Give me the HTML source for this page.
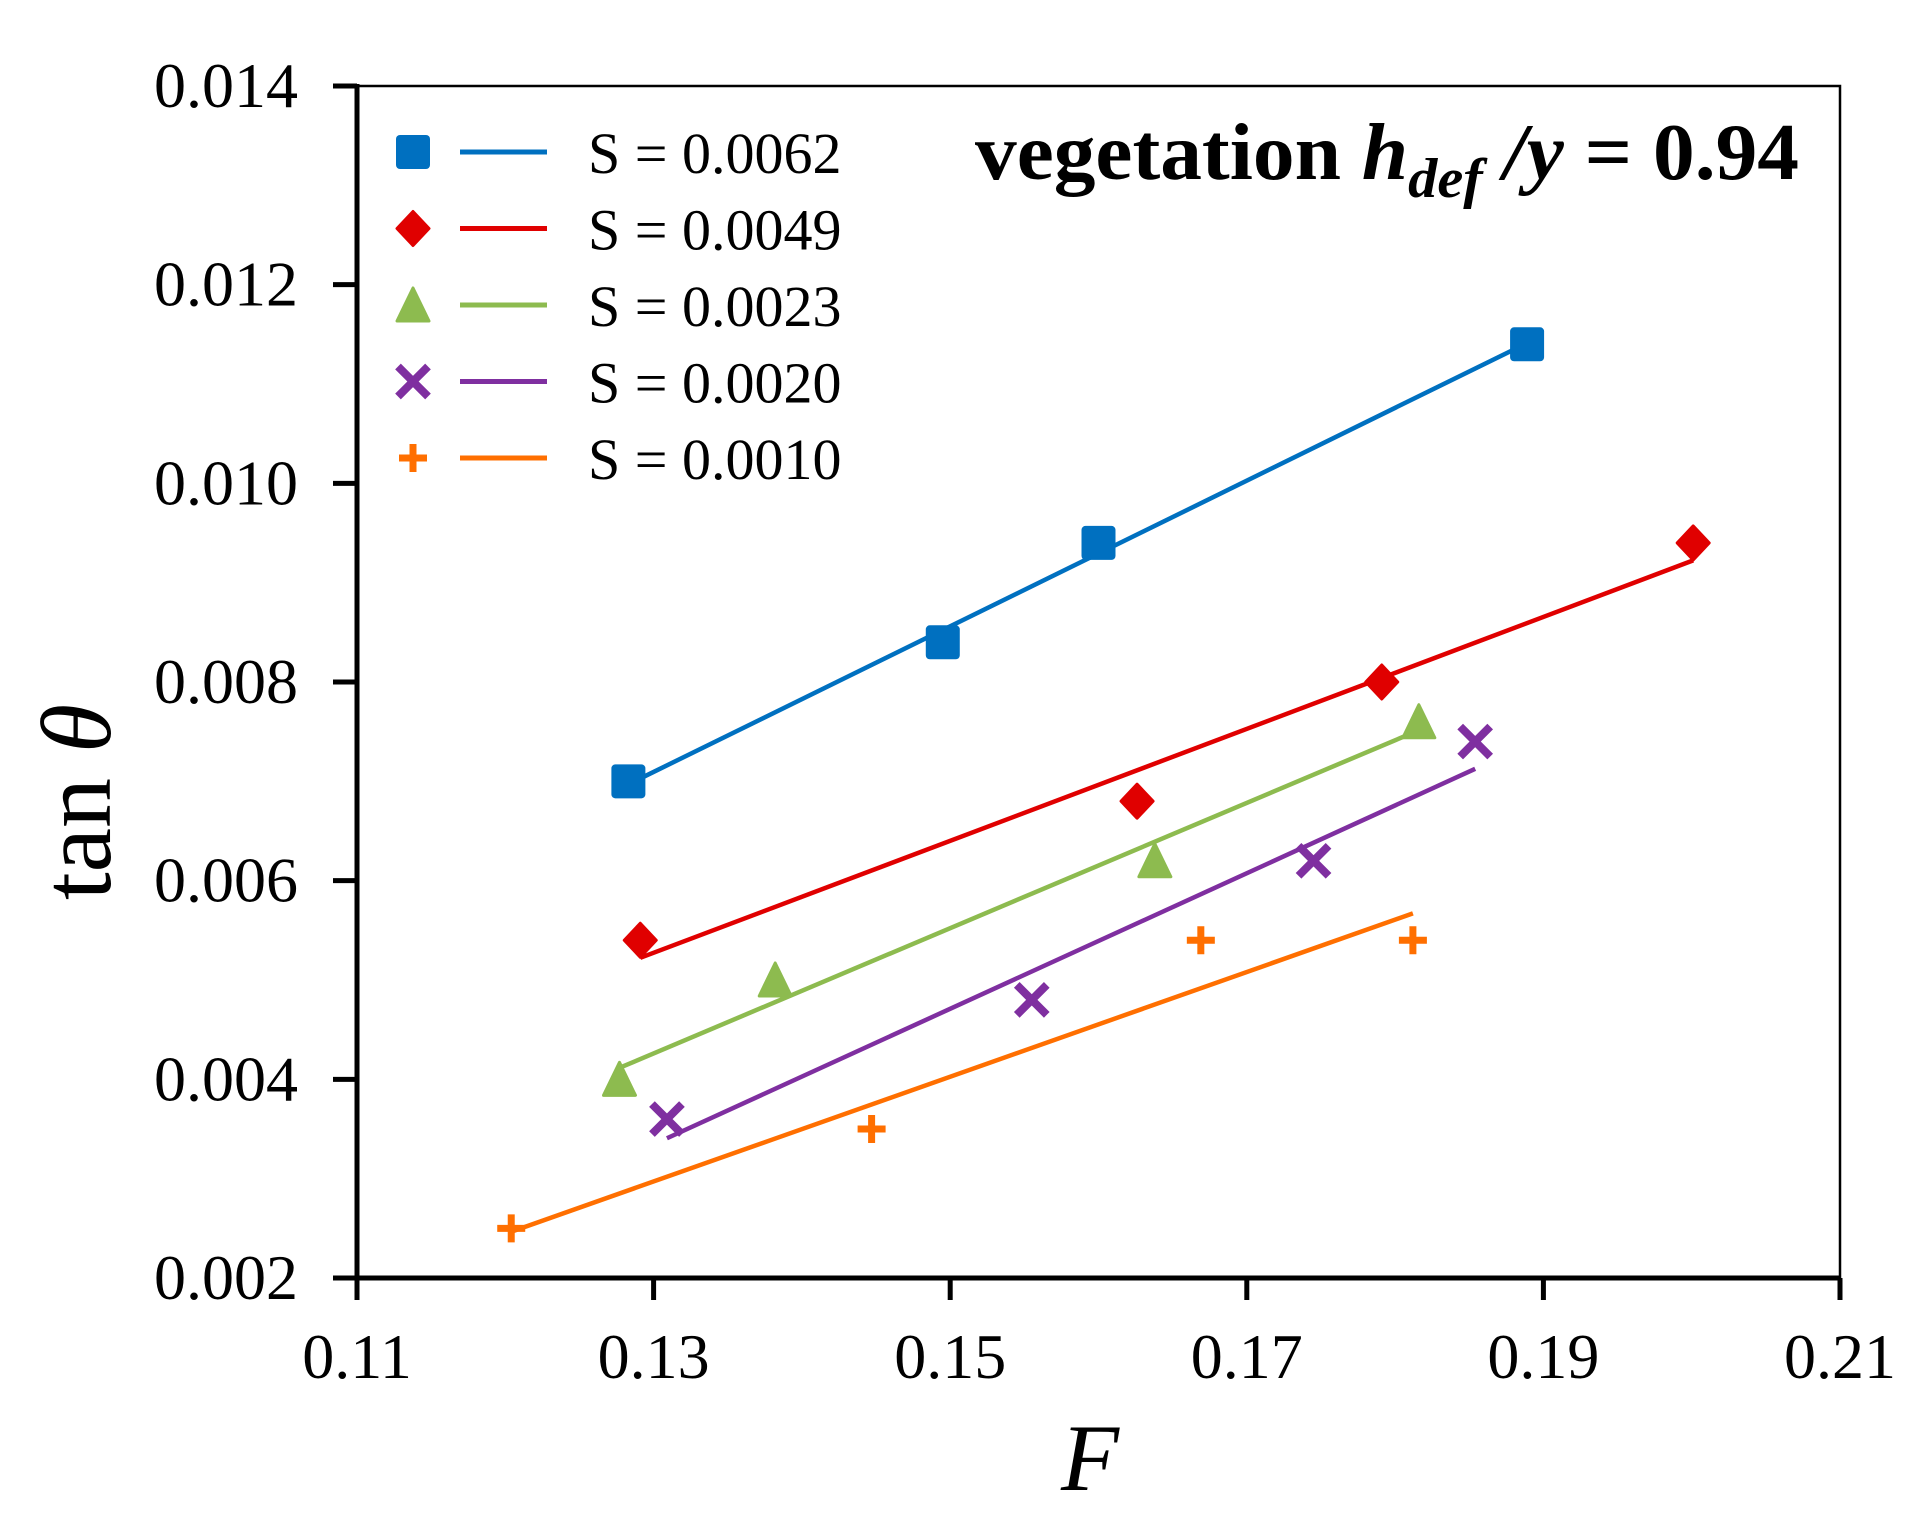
<!DOCTYPE html>
<html><head><meta charset="utf-8"><style>
html,body{margin:0;padding:0;background:#fff;}
svg{display:block;font-family:"Liberation Serif","Times New Roman",serif;}
</style></head><body>
<svg id="chart" width="1909" height="1522" viewBox="0 0 1909 1522" xmlns="http://www.w3.org/2000/svg">
<rect x="0" y="0" width="1909" height="1522" fill="#fff"/>
<g id="plot"></g>
</svg>
<script>
const xTicks = [0.11, 0.13, 0.15, 0.17, 0.19, 0.21];
const xTickLabels = ["0.11", "0.13", "0.15", "0.17", "0.19", "0.21"];
const yTicks = [0.002, 0.004, 0.006, 0.008, 0.010, 0.012, 0.014];
const yTickLabels = ["0.002", "0.004", "0.006", "0.008", "0.010", "0.012", "0.014"];
const seriesNames = ["S = 0.0062", "S = 0.0049", "S = 0.0023", "S = 0.0020", "S = 0.0010"];
const s1F = [0.1283, 0.1495, 0.1600, 0.1889];
const s1T = [0.0070, 0.0084, 0.0094, 0.0114];
const s2F = [0.1291, 0.1626, 0.1791, 0.2001];
const s2T = [0.0054, 0.0068, 0.0080, 0.0094];
const s3F = [0.1277, 0.1382, 0.1638, 0.1816];
const s3T = [0.0040, 0.0050, 0.0062, 0.0076];
const s4F = [0.1309, 0.1555, 0.1745, 0.1854];
const s4T = [0.0036, 0.0048, 0.0062, 0.0074];
const s5F = [0.1204, 0.1447, 0.1669, 0.1812];
const s5T = [0.0025, 0.0035, 0.0054, 0.0054];

const NS = "http://www.w3.org/2000/svg";
const g = document.getElementById('plot');
const L = 357, R = 1840, T = 86, B = 1278;
const xMin = 0.11, xMax = 0.21, yMin = 0.002, yMax = 0.014;
function sx(v){ return L + (v - xMin) / (xMax - xMin) * (R - L); }
function sy(v){ return B - (v - yMin) / (yMax - yMin) * (B - T); }
function mk(tag, attrs, parent){
  const e = document.createElementNS(NS, tag);
  for (const k in attrs) e.setAttribute(k, attrs[k]);
  (parent || g).appendChild(e);
  return e;
}
const colors = ["#0070C0", "#E00000", "#8DBB4F", "#7F2FA0", "#FF6F00"];
const shapes = ["square", "diamond", "triangle", "cross", "plus"];
const allF = [s1F, s2F, s3F, s4F, s5F];
const allT = [s1T, s2T, s3T, s4T, s5T];

function marker(shape, cx, cy, color, parent){
  let e;
  if (shape === "square") {
    e = mk('rect', {x: cx-17, y: cy-17, width: 34, height: 34, rx: 4, fill: color}, parent);
  } else if (shape === "diamond") {
    e = mk('path', {d: `M${cx} ${cy-17} L${cx+16} ${cy} L${cx} ${cy+17} L${cx-16} ${cy} Z`, fill: color, stroke: color, 'stroke-width': 3, 'stroke-linejoin': 'round'}, parent);
  } else if (shape === "triangle") {
    e = mk('path', {d: `M${cx} ${cy-17} L${cx+16} ${cy+16} L${cx-16} ${cy+16} Z`, fill: color, stroke: color, 'stroke-width': 3, 'stroke-linejoin': 'round'}, parent);
  } else if (shape === "cross") {
    e = mk('path', {d: `M${cx-15} ${cy-15} L${cx+15} ${cy+15} M${cx+15} ${cy-15} L${cx-15} ${cy+15}`, stroke: color, 'stroke-width': 8, fill: 'none'}, parent);
  } else {
    e = mk('path', {d: `M${cx-14} ${cy} L${cx+14} ${cy} M${cx} ${cy-14} L${cx} ${cy+14}`, stroke: color, 'stroke-width': 7, fill: 'none'}, parent);
  }
  return e;
}

// frame
const fr = mk('rect', {x: L, y: T, width: R-L, height: B-T, fill: 'none', stroke: '#000', 'stroke-width': 2.5});


const ya = mk('line', {x1: L, y1: T-2, x2: L, y2: B+2, stroke: '#000', 'stroke-width': 5});


const xa = mk('line', {x1: L-24, y1: B, x2: R+1, y2: B, stroke: '#000', 'stroke-width': 5});



xTicks.forEach((v, i) => {
  const tk = mk('line', {x1: sx(v), y1: B, x2: sx(v), y2: B+22, stroke: '#000', 'stroke-width': 5});
  
  
  const t = mk('text', {x: sx(v), y: B+100, 'font-size': 64, 'text-anchor': 'middle', fill: '#000'});
  t.textContent = xTickLabels[i];
  
  
});
yTicks.forEach((v, i) => {
  const tk = mk('line', {x1: L-24, y1: sy(v), x2: L, y2: sy(v), stroke: '#000', 'stroke-width': 5});
  
  
  const t = mk('text', {x: 298, y: sy(v)+21, 'font-size': 64, 'text-anchor': 'end', fill: '#000'});
  t.textContent = yTickLabels[i];
  
  
});

// series
allF.forEach((F, si) => {
  const Tv = allT[si];
  const n = F.length;
  let mx = 0, my = 0;
  for (let i = 0; i < n; i++){ mx += F[i]; my += Tv[i]; }
  mx /= n; my /= n;
  let num = 0, den = 0;
  for (let i = 0; i < n; i++){ num += (F[i]-mx)*(Tv[i]-my); den += (F[i]-mx)*(F[i]-mx); }
  const b = num/den, a = my - b*mx;
  const f0 = Math.min(...F), f1 = Math.max(...F);
  const ln = mk('line', {x1: sx(f0), y1: sy(a+b*f0), x2: sx(f1), y2: sy(a+b*f1), stroke: colors[si], 'stroke-width': 4.5});
  
  
  for (let i = 0; i < n; i++){
    const m = marker(shapes[si], sx(F[i]), sy(Tv[i]), colors[si]);
    
    
  }
});

// legend
seriesNames.forEach((name, i) => {
  const cy = 152 + i*76.5;
  const m = marker(shapes[i], 413, cy, colors[i]);
  
  
  const ln = mk('line', {x1: 460, y1: cy, x2: 547, y2: cy, stroke: colors[i], 'stroke-width': 5});
  
  
  const t = mk('text', {x: 588, y: cy+21, 'font-size': 58, fill: '#000'});
  t.textContent = name;
  
  
});

// title
const title = mk('text', {x: 975, y: 179, 'font-size': 80, 'font-weight': 'bold', fill: '#000', textLength: 824, lengthAdjust: 'spacingAndGlyphs'});


title.innerHTML = 'vegetation <tspan font-style="italic">h</tspan><tspan font-style="italic" font-size="56" dy="18">def</tspan><tspan dy="-18" font-style="italic"> /y</tspan> = 0.94';

// axis titles
const yt = mk('text', {x: 0, y: 0, 'font-size': 100, 'text-anchor': 'middle', fill: '#000', transform: 'translate(110,802) rotate(-90)'});
yt.innerHTML = 'tan <tspan font-style="italic">θ</tspan>';


const xt = mk('text', {x: 1090, y: 1490, 'font-size': 95, 'font-style': 'italic', 'text-anchor': 'middle', fill: '#000'});
xt.textContent = 'F';


</script>
</body></html>
